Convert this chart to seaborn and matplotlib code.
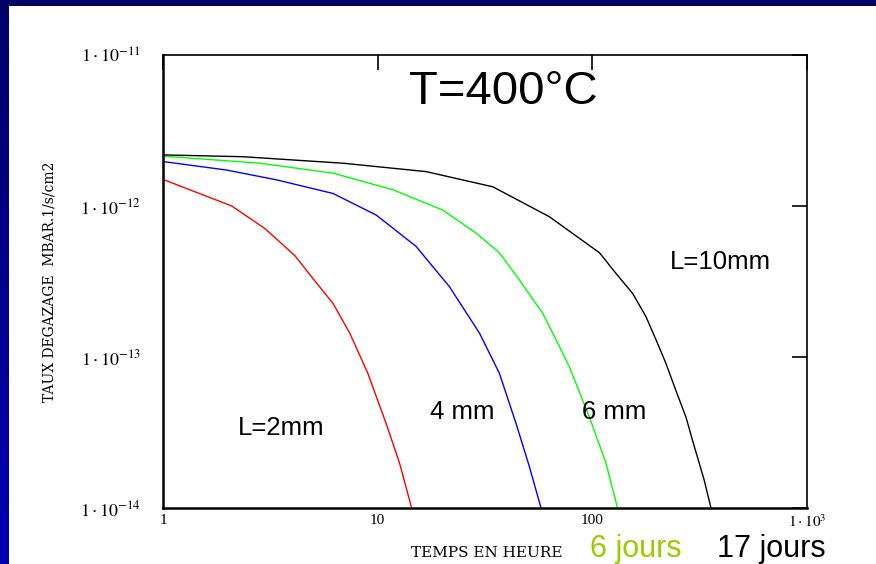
import numpy as np
import pandas as pd
import matplotlib
matplotlib.use("Agg")
import matplotlib.pyplot as plt
import seaborn as sns
from matplotlib.ticker import FixedLocator, FixedFormatter, NullLocator
from matplotlib.colors import LinearSegmentedColormap

# ---- data ----
x_2mm = [1.0, 2.09, 2.98, 4.11, 4.92, 6.2, 7.41, 9.0, 10.97, 12.65, 14.4]
y_2mm = [1.50e-12, 1.0e-12, 7.1e-13, 4.7e-13, 3.4e-13, 2.26e-13, 1.44e-13, 7.8e-14, 3.6e-14, 1.98e-14, 1.0e-14]

x_4mm = [1.0, 1.98, 3.38, 6.2, 9.86, 15.1, 21.6, 29.8, 36.9, 44.2, 50.9, 57.7]
y_4mm = [1.97e-12, 1.73e-12, 1.49e-12, 1.21e-12, 8.7e-13, 5.4e-13, 2.92e-13, 1.44e-13, 7.8e-14, 3.6e-14, 1.88e-14, 1.0e-14]

x_6mm = [1.0, 2.83, 6.2, 11.8, 20.1, 28.8, 36.9, 45.7, 58.7, 67.8, 78.2, 96.9, 115.8, 131.0]
y_6mm = [2.14e-12, 1.92e-12, 1.65e-12, 1.28e-12, 9.4e-13, 6.6e-13, 4.9e-13, 3.24e-13, 1.95e-13, 1.30e-13, 8.6e-14, 4.0e-14, 1.98e-14, 1.0e-14]

x_10mm = [1.0, 2.36, 6.9, 16.8, 34.4, 63.0, 108.0, 128.8, 154.0, 177.8, 198.0, 220.0, 245.0, 273.0, 293.0, 332.0, 357.0]
y_10mm = [2.18e-12, 2.12e-12, 1.92e-12, 1.69e-12, 1.34e-12, 8.5e-13, 4.9e-13, 3.58e-13, 2.64e-13, 1.85e-13, 1.30e-13, 9.1e-14, 6.0e-14, 4.0e-14, 2.8e-14, 1.53e-14, 1.0e-14]

series_names = ["L=2mm", "4 mm", "6 mm", "L=10mm"]
series_colors = ["#ff0000", "#0000ff", "#00ff00", "#000000"]

x_ticks = [1, 10, 100, 1000]
x_ticklabels = ["1", "10", "100", r"$1\cdot10^{3}$"]
y_ticks = [1e-14, 1e-13, 1e-12, 1e-11]
y_ticklabels = [r"$1\cdot10^{-14}$", r"$1\cdot10^{-13}$", r"$1\cdot10^{-12}$", r"$1\cdot10^{-11}$"]

title_text = "T=400°C"
y_label = "TAUX DEGAZAGE  MBAR.1/s/cm2"
x_label = "TEMPS EN HEURE"
days_6 = "6 jours"
days_17 = "17 jours"

frames = []
for name, xs, ys in zip(series_names, [x_2mm, x_4mm, x_6mm, x_10mm],
                        [y_2mm, y_4mm, y_6mm, y_10mm]):
    frames.append(pd.DataFrame({"t": xs, "rate": ys, "L": name}))
df = pd.concat(frames, ignore_index=True)

sns.set_style("white")
plt.rcParams["mathtext.fontset"] = "stix"
plt.rcParams["font.family"] = ["Liberation Sans", "DejaVu Sans"]
plt.rcParams["text.color"] = "black"
plt.rcParams["axes.labelcolor"] = "black"
plt.rcParams["xtick.color"] = "black"
plt.rcParams["ytick.color"] = "black"

W, H = 876, 564
fig = plt.figure(figsize=(W / 100, H / 100), dpi=100)
fig.patch.set_facecolor("white")

# blue slide border: gradient on the left, navy strip on top
band = fig.add_axes([0, 0, 9 / W, 1])
grad = np.linspace(0, 1, 256).reshape(-1, 1)
cmap = LinearSegmentedColormap.from_list("b", ["#000066", "#0000b4"])
band.imshow(grad, aspect="auto", cmap=cmap, extent=[0, 1, 0, 1], origin="upper")
band.set_axis_off()
top = fig.add_axes([0, 1 - 6 / H, 1, 6 / H])
top.set_facecolor("#000066")
top.set_xticks([]); top.set_yticks([])
for s in top.spines.values():
    s.set_visible(False)

ax = fig.add_axes([163 / W, (H - 508) / H, 644 / W, 453 / H])
sns.lineplot(data=df, x="t", y="rate", hue="L", palette=dict(zip(series_names, series_colors)),
             ax=ax, legend=False, linewidth=1.0, sort=False, estimator=None)
ax.set_xscale("log")
ax.set_yscale("log")
ax.set_xlim(1, 1000)
ax.set_ylim(1e-14, 1e-11)

for s in ax.spines.values():
    s.set_color("black")
    s.set_linewidth(1.2)
ax.spines["left"].set_linewidth(1.8)
ax.spines["bottom"].set_linewidth(1.8)

ax.xaxis.set_major_locator(FixedLocator(x_ticks))
ax.xaxis.set_major_formatter(FixedFormatter(x_ticklabels))
ax.xaxis.set_minor_locator(NullLocator())
ax.yaxis.set_major_locator(FixedLocator(y_ticks))
ax.yaxis.set_major_formatter(FixedFormatter(y_ticklabels))
ax.yaxis.set_minor_locator(NullLocator())
ax.tick_params(axis="both", which="major", direction="in", length=11, width=1.2,
               top=True, right=True, colors="black")
ax.tick_params(axis="x", pad=4, labelsize=11)
ax.tick_params(axis="y", pad=16, labelsize=13)
for lab in ax.get_xticklabels() + ax.get_yticklabels():
    lab.set_family("Liberation Serif")

ax.set_xlabel("")
ax.set_ylabel(y_label, family="DejaVu Serif", fontsize=10, color="black")
ax.yaxis.set_label_coords((57 - 163) / 644, 0.5)

fig.text(503 / W, 1 - 92 / H, title_text, fontsize=34, ha="center", va="center", color="black")
fig.text(720 / W, 1 - 262 / H, "L=10mm", fontsize=18.5, ha="center", va="center", color="black")
fig.text(281 / W, 1 - 428 / H, "L=2mm", fontsize=18.5, ha="center", va="center", color="black")
fig.text(462 / W, 1 - 412 / H, "4 mm", fontsize=18.5, ha="center", va="center", color="black")
fig.text(614 / W, 1 - 412 / H, "6 mm", fontsize=18.5, ha="center", va="center", color="black")

fig.text(487 / W, 1 - 553 / H, x_label, family="DejaVu Serif", fontsize=11,
         ha="center", va="center", color="black")
fig.text(590 / W, 1 - 557 / H, days_6, fontsize=22, color="#99cc00", ha="left", va="baseline")
fig.text(717 / W, 1 - 557 / H, days_17, fontsize=22, color="black", ha="left", va="baseline")

fig.savefig("out.png", dpi=100)
